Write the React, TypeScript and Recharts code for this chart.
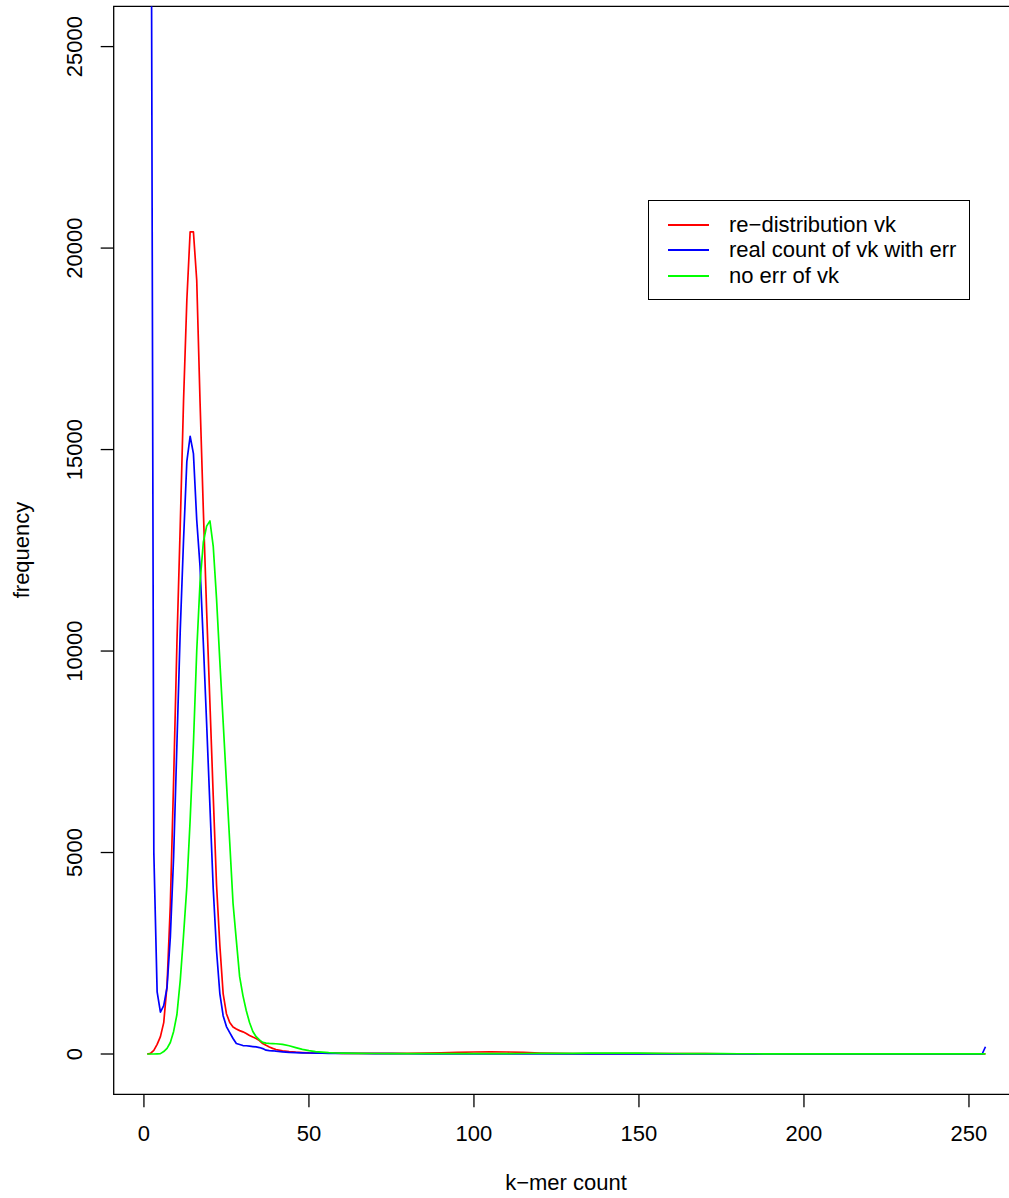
import React from 'react'
import { LineChart, Line, XAxis, YAxis, ReferenceArea, Legend } from 'recharts'

// k-mer count grid (dense near the peak, sparse along the flat tail)
const kmerCounts = [
  1, 2, 3, 4, 5, 6, 7, 8, 9, 10,
  11, 12, 13, 14, 15, 16, 17, 18, 19, 20,
  21, 22, 23, 24, 25, 26, 27, 28, 29, 30,
  31, 32, 33, 34, 35, 36, 37, 38, 39, 40,
  42, 44, 46, 48, 50, 52, 54, 56, 58, 60,
  65, 70, 75, 80, 85, 90, 95, 100, 105, 110,
  115, 120, 125, 130, 135, 140, 145, 150, 155, 160,
  165, 170, 175, 180, 185, 190, 195, 200, 205, 210,
  215, 220, 225, 230, 235, 240, 245, 250,
  254, 255,
]

const redistribution = [
  0, 15, 90, 240, 430, 780, 1700, 3700, 6800, 10200,
  13100, 16200, 18700, 20400, 20400, 19200, 16200, 13500, 11000, 8700,
  6400, 4200, 2700, 1500, 1000, 780, 670, 620, 580, 550,
  510, 460, 420, 385, 335, 260, 215, 175, 140, 110,
  80, 60, 45, 35, 28, 25, 22, 20, 20, 18,
  18, 16, 15, 15, 20, 30, 42, 50, 55, 50,
  38, 22, 14, 10, 9, 8, 8, 8, 8, 7,
  7, 7, 6, 6, 6, 6, 5, 5, 5, 5,
  5, 5, 5, 5, 5, 5, 5, 5,
  5, 5,
]

const realCountWithErr = [
  90000, 36000, 5000, 1540, 1040, 1200, 1650, 2900, 4900, 7700,
  10500, 12750, 14700, 15330, 14900, 13250, 12100, 10200, 8200, 6150,
  4100, 2570, 1500, 950, 680, 530, 385, 260, 235, 210,
  205, 195, 185, 175, 160, 135, 95, 85, 80, 70,
  55, 42, 35, 30, 25, 22, 20, 18, 15, 14,
  12, 10, 8, 6, 5, 5, 4, 4, 3, 3,
  3, 3, 3, 3, 3, 3, 3, 3, 3, 3,
  2, 2, 2, 2, 2, 2, 2, 2, 2, 2,
  2, 2, 2, 2, 2, 2, 2, 2,
  0, 180,
]

const noErr = [
  0, 0, 0, 5, 10, 60, 140, 285, 560, 980,
  1820, 2940, 4150, 5800, 7700, 10000, 11700, 12700, 13100, 13230,
  12600, 11300, 9750, 8250, 6740, 5250, 3740, 2820, 1920, 1450,
  1080, 780, 560, 430, 350, 290, 270, 262, 258, 255,
  240, 205, 160, 115, 85, 60, 45, 32, 25, 20,
  15, 12, 10, 9, 8, 8, 8, 8, 9, 10,
  12, 14, 16, 18, 20, 22, 22, 20, 16, 12,
  10, 8, 7, 6, 6, 5, 5, 5, 5, 5,
  5, 5, 5, 5, 5, 5, 5, 5,
  5, 5,
]

const xTicks = [0, 50, 100, 150, 200, 250]
const yTicks = [0, 5000, 10000, 15000, 20000, 25000]

const series = [
  { key: 'redistribution', name: 're−distribution vk', color: '#ff0000' },
  { key: 'realCount', name: 'real count of vk with err', color: '#0000ff' },
  { key: 'noErr', name: 'no err of vk', color: '#00ff00' },
]

const data = kmerCounts.map((k, i) => ({
  k,
  redistribution: redistribution[i],
  realCount: realCountWithErr[i],
  noErr: noErr[i],
}))

const FONT = '"Liberation Sans", Arial, Helvetica, sans-serif'
const FONT_SIZE = 22

// eslint-disable-next-line @typescript-eslint/no-explicit-any
const XTick = ({ x, payload }: any) => (
  <text x={x} y={1141} textAnchor="middle" fontSize={FONT_SIZE} fontFamily={FONT} fill="#000">
    {payload.value}
  </text>
)

// eslint-disable-next-line @typescript-eslint/no-explicit-any
const YTick = ({ y, payload }: any) => (
  <text
    x={82}
    y={y}
    transform={`rotate(-90 82 ${y})`}
    textAnchor="middle"
    fontSize={FONT_SIZE}
    fontFamily={FONT}
    fill="#000"
  >
    {payload.value}
  </text>
)

const xTitle = () => (
  <text x={566} y={1190} textAnchor="middle" fontSize={FONT_SIZE} fontFamily={FONT} fill="#000">
    k−mer count
  </text>
)

const yTitle = () => (
  <text
    x={29}
    y={550}
    transform="rotate(-90 29 550)"
    textAnchor="middle"
    fontSize={FONT_SIZE}
    fontFamily={FONT}
    fill="#000"
  >
    frequency
  </text>
)

// legend rows follow the plotting order of the series
// eslint-disable-next-line @typescript-eslint/no-explicit-any
const LegendBox = ({ payload }: any) => {
  const names = (payload || []).map((p: { value: string }) => p.value)
  const rows = series.filter((s) => names.length === 0 || names.includes(s.name))
  return (
    <div
      style={{
        position: 'relative',
        width: 322,
        height: 100,
        boxSizing: 'border-box',
        border: '1px solid #000',
        background: '#fff',
        fontFamily: FONT,
        fontSize: FONT_SIZE,
        color: '#000',
      }}
    >
      {rows.map((s, i) => {
        const cy = 24 + i * 25.4
        return (
          <React.Fragment key={s.key}>
            <div
              style={{
                position: 'absolute',
                left: 19,
                top: cy - 1,
                width: 41,
                height: 2,
                background: s.color,
              }}
            />
            <div
              style={{
                position: 'absolute',
                left: 80,
                top: cy - 13,
                lineHeight: '26px',
                whiteSpace: 'nowrap',
              }}
            >
              {s.name}
            </div>
          </React.Fragment>
        )
      })}
    </div>
  )
}

export default function App() {
  return (
    <div
      style={{
        position: 'absolute',
        left: 0,
        top: 0,
        width: 1009,
        height: 1198,
        overflow: 'hidden',
        background: '#fff',
      }}
    >
      <LineChart width={1019} height={1198} data={data} margin={{ top: 6.3, right: 0, bottom: 0, left: 0 }}>
        <XAxis
          dataKey="k"
          type="number"
          domain={[-9.16, 265.16]}
          ticks={xTicks}
          allowDataOverflow
          height={103.7}
          axisLine={false}
          tickLine={{ stroke: '#000', strokeWidth: 1.3 }}
          tickSize={13}
          tick={<XTick />}
          label={xTitle}
        />
        <YAxis
          type="number"
          domain={[-1000, 26000]}
          ticks={yTicks}
          allowDataOverflow
          width={113.7}
          axisLine={false}
          tickLine={{ stroke: '#000', strokeWidth: 1.3 }}
          tickSize={13}
          tick={<YTick />}
          label={yTitle}
        />
        <ReferenceArea
          x1={-9.16}
          x2={265.16}
          y1={-1000}
          y2={26000}
          fill="none"
          stroke="#000"
          strokeWidth={1.3}
          ifOverflow="visible"
        />
        {series.map((s) => (
          <Line
            key={s.key}
            type="linear"
            dataKey={s.key}
            name={s.name}
            stroke={s.color}
            strokeWidth={1.7}
            strokeLinejoin="round"
            dot={false}
            activeDot={false}
            isAnimationActive={false}
          />
        ))}
        <Legend
          layout="vertical"
          align="center"
          verticalAlign="middle"
          wrapperStyle={{ left: 648, top: 200, width: 322, height: 100 }}
          content={<LegendBox />}
        />
      </LineChart>
    </div>
  )
}
